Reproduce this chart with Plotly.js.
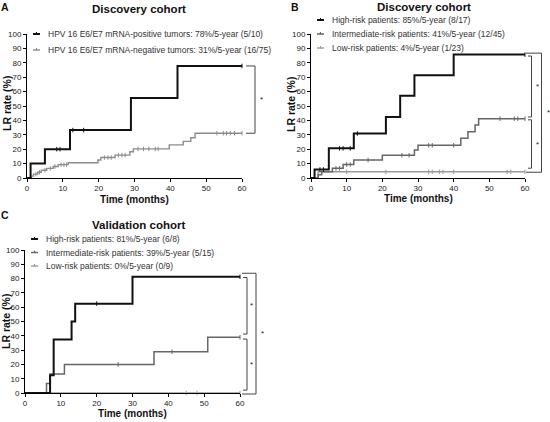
<!DOCTYPE html>
<html><head><meta charset="utf-8">
<script src="https://cdn.plot.ly/plotly-3.0.1.min.js"></script>
<style>html,body{margin:0;padding:0;background:#fff}#chart{width:550px;height:422px}</style>
</head><body><div id="chart"></div>
<script>
// ---------- Panel A: Discovery cohort (HPV status) ----------
const aPosTime = [0, 1, 5, 12, 29, 42, 60];
const aPosRate = [0, 10, 20, 33.3, 55.6, 77.8, 77.8];
const aPosCens = [8.3, 9.2, 12.8, 15.8, 60];
const aNegTime = [0, 1.2, 1.8, 3, 4, 5.5, 7.3, 8.7, 11.5, 19.8, 20.6, 24.6, 28.7, 29.7, 39.7, 43.6, 45.7, 46.9, 60];
const aNegRate = [0, 1.3, 2.7, 4.0, 5.4, 6.7, 8.0, 9.3, 10.6, 12.5, 14.2, 15.9, 18.2, 20.2, 23.0, 25.4, 28.0, 31.1, 31.1];
const aNegCens = [2.5, 3.5, 5, 6.5, 7.8, 9.5, 10.3, 11, 21.6, 22.6, 23.5, 25.5, 26.5, 27.4, 31, 32.5, 34, 35.8, 36.6, 53, 54.8, 55.7, 56.7, 57.9, 60];
const aLabels = ['HPV 16 E6/E7 mRNA-positive tumors: 78%/5-year (5/10)',
                 'HPV 16 E6/E7 mRNA-negative tumors: 31%/5-year (16/75)'];

// ---------- Panel B: Discovery cohort (risk groups) ----------
const bHighTime = [0, 1, 5, 12, 21, 25, 29, 40, 60];
const bHighRate = [0, 5.9, 20.6, 30.9, 42.4, 57.1, 71.4, 85.7, 85.7];
const bHighCens = [2.5, 3.5, 8, 9, 11, 13, 60];
const bIntTime = [0, 2, 3, 6, 9, 12, 20, 29, 30, 42, 44, 46, 47, 60];
const bIntRate = [0, 2.2, 4.4, 6.7, 9.4, 12.5, 15.8, 19.5, 22.7, 27.6, 32.2, 36.8, 41.2, 41.2];
const bIntCens = [7, 8, 10, 11, 16, 25.5, 27.5, 33, 34, 40, 53, 57, 58, 60];
const bLowTime = [0, 2, 60];
const bLowRate = [0, 4.3, 4.3];
const bLowCens = [10, 21, 33, 34, 36, 37, 40, 55, 56, 60];
const bLabels = ['High-risk patients: 85%/5-year (8/17)',
                 'Intermediate-risk patients: 41%/5-year (12/45)',
                 'Low-risk patients: 4%/5-year (1/23)'];

// ---------- Panel C: Validation cohort ----------
const cHighTime = [0, 7, 8, 13, 14, 30, 60];
const cHighRate = [0, 12.5, 37.5, 50, 62.5, 81.25, 81.25];
const cHighCens = [20, 60];
const cIntTime = [0, 6, 7, 11, 36, 51, 60];
const cIntRate = [0, 6.7, 13.3, 20, 28.9, 39.0, 39.0];
const cIntCens = [26, 41, 60];
const cLowTime = [0, 60];
const cLowRate = [0, 0];
const cLowCens = [45, 48, 60];
const cLabels = ['High-risk patients: 81%/5-year (6/8)',
                 'Intermediate-risk patients: 39%/5-year (5/15)',
                 'Low-risk patients: 0%/5-year (0/9)'];

const xTicks = [0, 10, 20, 30, 40, 50, 60];
const yTicks = [0, 10, 20, 30, 40, 50, 60, 70, 80, 90, 100];

// ---------- layout helpers ----------
const W = 550, H = 422;
const FONT = 'Liberation Sans, Arial, sans-serif';
const BLACK = '#111111', MID = '#666666', LIGHT = '#9a9a9a', NEG = '#8c8c8c';
const px = x => x / W;
const py = y => 1 - y / H;

const P = {
  A: {xd: [27, 242], yd: [34, 178], ax: ['x', 'y']},
  B: {xd: [311, 525], yd: [34, 178], ax: ['x2', 'y2']},
  C: {xd: [25, 240], yd: [250, 393], ax: ['x3', 'y3']}
};
const vy = (p, v) => P[p].yd[1] - v / 100 * (P[p].yd[1] - P[p].yd[0]); // value -> pixel y

function valueAt(times, rates, t) {
  let v = rates[0];
  for (let i = 0; i < times.length; i++) if (times[i] <= t) v = rates[i];
  return v;
}

const traces = [];
function curve(p, times, rates, cens, color, width) {
  const [xa, ya] = P[p].ax;
  traces.push({x: times, y: rates, xaxis: xa, yaxis: ya, mode: 'lines',
    line: {shape: 'hv', color: color, width: width}, hoverinfo: 'skip', showlegend: false, cliponaxis: false});
  traces.push({x: cens, y: cens.map(t => valueAt(times, rates, t)), xaxis: xa, yaxis: ya, mode: 'markers',
    marker: {symbol: 'line-ns', size: 3.2, line: {width: 1, color: color}}, hoverinfo: 'skip', showlegend: false, cliponaxis: false});
}
curve('A', aNegTime, aNegRate, aNegCens, NEG, 1.4);
curve('A', aPosTime, aPosRate, aPosCens, BLACK, 2);
curve('B', bLowTime, bLowRate, bLowCens, LIGHT, 1.4);
curve('B', bIntTime, bIntRate, bIntCens, MID, 1.5);
curve('B', bHighTime, bHighRate, bHighCens, BLACK, 2);
curve('C', cLowTime, cLowRate, cLowCens, LIGHT, 1.4);
curve('C', cIntTime, cIntRate, cIntCens, MID, 1.5);
curve('C', cHighTime, cHighRate, cHighCens, BLACK, 2);

function axisX(p) {
  return {domain: [px(P[p].xd[0]), px(P[p].xd[1])], range: [0, 60], anchor: P[p].ax[1],
    tickvals: xTicks, ticktext: xTicks.map(String), ticks: 'outside', ticklen: 3, tickwidth: 1, tickcolor: '#000',
    showline: true, linecolor: '#000', linewidth: 1, showgrid: false, zeroline: false, fixedrange: true,
    tickfont: {family: FONT, size: 8, color: '#222'}, automargin: false, ticklabelstandoff: -1};
}
function axisY(p) {
  return {domain: [py(P[p].yd[1]), py(P[p].yd[0])], range: [0, 100], anchor: P[p].ax[0],
    tickvals: yTicks, ticktext: yTicks.map(String), ticks: 'outside', ticklen: 3, tickwidth: 1, tickcolor: '#000',
    showline: true, linecolor: '#000', linewidth: 1, showgrid: false, zeroline: false, fixedrange: true,
    tickfont: {family: FONT, size: 8, color: '#222'}, automargin: false, ticklabelstandoff: 0};
}

const annotations = [];
const shapes = [];
function text(x, y, t, size, opts) {
  annotations.push(Object.assign({xref: 'paper', yref: 'paper', x: px(x), y: py(y), text: t, showarrow: false,
    font: {family: FONT, size: size, color: '#111'}, xanchor: 'center', yanchor: 'middle'}, opts || {}));
}
// panel letters, titles, axis titles
text(5, 7, '<b>A</b>', 10.5); text(295, 7, '<b>B</b>', 10.5); text(5, 215, '<b>C</b>', 10.5);
text(139, 9, '<b>Discovery cohort</b>', 11.5);
text(424, 7, '<b>Discovery cohort</b>', 11.5);
text(138, 225, '<b>Validation cohort</b>', 11.5);
text(134, 199.5, '<b>Time (months)</b>', 10);
text(418, 199, '<b>Time (months)</b>', 10);
text(132, 413.5, '<b>Time (months)</b>', 10);
text(7, 104, '<b>LR rate (%)</b>', 10.5, {textangle: -90});
text(291, 105, '<b>LR rate (%)</b>', 10.5, {textangle: -90});
text(6, 322, '<b>LR rate (%)</b>', 10.5, {textangle: -90});

// legends (drawn manually: short line with censor tick)
function legendEntry(x0, x1, y, color, width, label) {
  shapes.push({type: 'line', xref: 'paper', yref: 'paper', x0: px(x0), x1: px(x1), y0: py(y), y1: py(y),
    line: {color: color, width: width}});
  const xm = (x0 + x1) / 2;
  shapes.push({type: 'line', xref: 'paper', yref: 'paper', x0: px(xm), x1: px(xm), y0: py(y - 2), y1: py(y + 0.5),
    line: {color: color, width: 1}});
  text(x1 + 6, y, label, 8.5, {xanchor: 'left', font: {family: FONT, size: 8.5, color: '#333'}});
}
legendEntry(33, 40, 34, BLACK, 2, aLabels[0]);
legendEntry(33, 40, 50, NEG, 1.4, aLabels[1]);
legendEntry(317, 324, 20, BLACK, 2, bLabels[0]);
legendEntry(317, 324, 34, MID, 1.5, bLabels[1]);
legendEntry(317, 324, 48, LIGHT, 1.4, bLabels[2]);
legendEntry(31, 38, 239, BLACK, 2, cLabels[0]);
legendEntry(31, 38, 252.5, MID, 1.5, cLabels[1]);
legendEntry(31, 38, 266, LIGHT, 1.4, cLabels[2]);

// significance brackets
function bracket(p, xTick, xLine, vTop, vBot, xStar) {
  const yT = vy(p, vTop), yB = vy(p, vBot);
  shapes.push({type: 'path', xref: 'paper', yref: 'paper',
    path: `M ${px(xTick)},${py(yT)} L ${px(xLine)},${py(yT)} L ${px(xLine)},${py(yB)} L ${px(xTick)},${py(yB)}`,
    line: {color: '#444', width: 1}});
  text(xStar, (yT + yB) / 2, '*', 8, {font: {family: FONT, size: 8, color: '#222'}});
}
const last = a => a[a.length - 1];
bracket('A', 246, 255, last(aPosRate), last(aNegRate), 261);
bracket('B', 526, 541.5, last(bHighRate) + 1, last(bLowRate) - 0.3, 548);
bracket('B', 528, 531.5, last(bHighRate) - 1, last(bIntRate) + 1.2, 537);
bracket('B', 528, 531.5, last(bIntRate) - 0.8, last(bLowRate) + 2.5, 537);
bracket('C', 242, 256, last(cHighRate) + 2.5, last(cLowRate) - 0.7, 262);
bracket('C', 243, 247, last(cHighRate) - 0.5, last(cIntRate) + 2.2, 251);
bracket('C', 243, 247, last(cIntRate) - 1.3, last(cLowRate) + 2, 251);

const layout = {
  width: W, height: H, margin: {l: 0, r: 0, t: 0, b: 0},
  paper_bgcolor: '#fff', plot_bgcolor: 'rgba(0,0,0,0)', showlegend: false,
  xaxis: axisX('A'), yaxis: axisY('A'),
  xaxis2: axisX('B'), yaxis2: axisY('B'),
  xaxis3: axisX('C'), yaxis3: axisY('C'),
  annotations: annotations, shapes: shapes,
  font: {family: FONT}
};
Plotly.newPlot('chart', traces, layout, {displayModeBar: false, staticPlot: true});
</script></body></html>
